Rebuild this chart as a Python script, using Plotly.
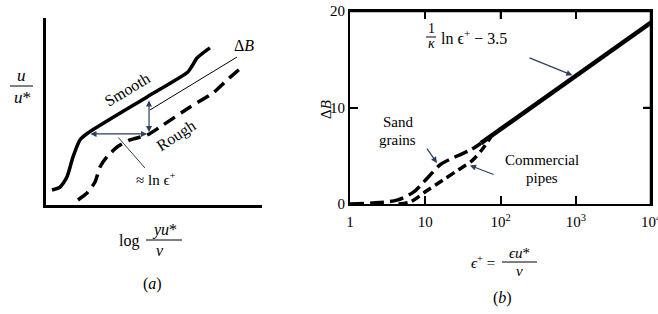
import math
import plotly.graph_objects as go

W, H = 658, 314
SERIF = "Liberation Serif, Times New Roman, DejaVu Serif, serif"

# ---------- Panel (a): schematic velocity profiles (arbitrary units) ----------
smooth_x = [0.28, 0.65, 0.97, 1.25, 1.57, 1.94, 4.68, 6.57, 6.76, 6.99, 7.27, 7.59]
smooth_y = [0.80, 0.96, 1.50, 2.57, 3.48, 3.85, 5.78, 7.11, 7.43, 7.86, 8.13, 8.40]
rough_x = [1.48, 1.90, 2.27, 2.50, 2.82, 3.29, 3.89, 4.68, 5.42, 6.67, 7.73, 8.38, 9.07]
rough_y = [0.27, 0.64, 1.23, 2.03, 2.57, 3.10, 3.48, 3.74, 4.28, 5.24, 5.99, 6.68, 7.38]
dB_lead_x = [4.81, 8.84]
dB_lead_y = [5.08, 7.91]

# ---------- Panel (b): roughness function ----------
line_eps = [55, 10000]
line_dB = [6.3, 18.8]
sand_eps = [1, 2, 4.2, 6.9, 11, 16, 27, 40, 55]
sand_dB = [0, 0.1, 0.4, 1.2, 2.8, 4.1, 5.0, 5.6, 6.3]
comm_eps = [4.4, 6.3, 10.6, 17.4, 27, 42, 59, 75]
comm_dB = [0, 0.2, 1.4, 2.5, 3.5, 4.5, 5.8, 7.0]
xtick_vals = [1, 10, 100, 1000, 10000]
xtick_text = ["1", "10", "10<sup>2</sup>", "10<sup>3</sup>", "10<sup>4</sup>"]
ytick_vals = [0, 10, 20]
X_RANGE = [0, 4]     # log10 of 1 .. 10^4
Y_RANGE = [0, 20]


def px(x):
    return x / W


def py(y):
    return 1 - y / H


L = math.log10  # annotation positions on a log axis are given in log10 units

B_LEFT, B_RIGHT, B_TOP, B_BOT = 350, 651, 11, 204
TICK = 8

fig = go.Figure()

# panel a traces
fig.add_trace(go.Scatter(x=smooth_x, y=smooth_y, mode="lines",
                         line=dict(color="black", width=3.5, shape="spline", smoothing=0.6),
                         xaxis="x", yaxis="y", showlegend=False, hoverinfo="skip"))
fig.add_trace(go.Scatter(x=rough_x, y=rough_y, mode="lines",
                         line=dict(color="black", width=3.5, dash="13px,7px", shape="spline", smoothing=0.6),
                         xaxis="x", yaxis="y", showlegend=False, hoverinfo="skip"))
fig.add_trace(go.Scatter(x=dB_lead_x, y=dB_lead_y, mode="lines", line=dict(color="black", width=1),
                         xaxis="x", yaxis="y", showlegend=False, hoverinfo="skip"))

# panel b traces
fig.add_trace(go.Scatter(x=line_eps, y=line_dB, mode="lines", line=dict(color="black", width=4.5),
                         xaxis="x2", yaxis="y2", showlegend=False, hoverinfo="skip"))
fig.add_trace(go.Scatter(x=sand_eps, y=sand_dB, mode="lines",
                         line=dict(color="black", width=3.5, dash="14px,6px", shape="spline", smoothing=0.8),
                         xaxis="x2", yaxis="y2", showlegend=False, hoverinfo="skip"))
fig.add_trace(go.Scatter(x=comm_eps, y=comm_dB, mode="lines",
                         line=dict(color="black", width=3.5, dash="9px,5px", shape="spline", smoothing=0.8),
                         xaxis="x2", yaxis="y2", showlegend=False, hoverinfo="skip"))

# panel b frame: top and right sides, built from the axis extremes (tick values)
x_lo, x_hi = xtick_vals[0], xtick_vals[-1]
y_lo, y_hi = ytick_vals[0], ytick_vals[-1]
fig.add_trace(go.Scatter(x=[x_lo, x_hi, x_hi], y=[y_hi, y_hi, y_lo], mode="lines",
                         line=dict(color="black", width=2.5), cliponaxis=False,
                         xaxis="x2", yaxis="y2", showlegend=False, hoverinfo="skip"))
# mirrored inward tick marks on top and right
tick_dy = TICK / (B_BOT - B_TOP) * (Y_RANGE[1] - Y_RANGE[0])
tick_dlog = TICK / (B_RIGHT - B_LEFT) * (X_RANGE[1] - X_RANGE[0])
mx, my = [], []
for v in xtick_vals[1:-1]:
    mx += [v, v, None]
    my += [y_hi, y_hi - tick_dy, None]
for v in ytick_vals[1:-1]:
    mx += [x_hi, x_hi / 10 ** tick_dlog, None]
    my += [v, v, None]
fig.add_trace(go.Scatter(x=mx, y=my, mode="lines", line=dict(color="black", width=1.5), cliponaxis=False,
                         xaxis="x2", yaxis="y2", showlegend=False, hoverinfo="skip", connectgaps=False))

ann = []
shapes = []


def txt(x, y, s, size=16, **kw):
    d = dict(x=px(x), y=py(y), xref="paper", yref="paper", text=s, showarrow=False,
             xanchor="center", yanchor="middle",
             font=dict(family=SERIF, size=size, color="black"))
    d.update(kw)
    ann.append(d)


def bar(x0, x1, y):
    shapes.append(dict(type="line", xref="paper", yref="paper", x0=px(x0), x1=px(x1), y0=py(y), y1=py(y),
                       line=dict(color="black", width=1)))


# --- panel a annotations ---
ann.append(dict(x=4.77, y=3.90, ax=4.77, ay=5.67, xref="x", yref="y", axref="x", ayref="y", text="",
                showarrow=True, arrowhead=2, arrowsize=1, arrowwidth=1.2, arrowside="end+start"))
ann.append(dict(x=4.68, y=3.80, ax=1.99, ay=3.80, xref="x", yref="y", axref="x", ayref="y", text="",
                showarrow=True, arrowhead=2, arrowsize=1, arrowwidth=1.2, arrowside="end+start"))
ann.append(dict(x=4.58, y=1.98, ax=3.29, ay=3.69, xref="x", yref="y", axref="x", ayref="y", text="",
                showarrow=True, arrowhead=0, arrowwidth=1))
txt(155, 179, "≈ ln ϵ<sup>+</sup>", 15)
txt(127, 89, "Smooth", 16, textangle=-31)
txt(176, 136, "Rough", 16, textangle=-33)
txt(244, 46, "Δ<i>B</i>", 16)

# y label u / u*
txt(21, 76, "<i>u</i>", 17)
txt(22, 97, "<i>u</i>*", 17)
bar(10, 33, 86)

# x label log yu*/nu
txt(129, 241, "log", 16)
txt(164, 230, "<i>yu</i>*", 16)
txt(160, 250, "<i>ν</i>", 16)
bar(146, 182, 240)
txt(152, 284, "(<i>a</i>)", 16)

# --- panel b annotations ---
txt(326, 110, "Δ<i>B</i>", 15, textangle=-90)
txt(431, 29, "1", 14)
txt(431, 44, "<i>κ</i>", 14)
bar(426, 436, 37)
txt(439, 37, "ln ϵ<sup>+</sup> − 3.5", 16, xanchor="left")
ann.append(dict(x=L(900), y=13.35, ax=L(232), ay=15.2, xref="x2", yref="y2", axref="x2", ayref="y2", text="",
                showarrow=True, arrowhead=2, arrowsize=1, arrowwidth=1.2))

txt(398, 122, "Sand", 15)
txt(397, 140, "grains", 15)
ann.append(dict(x=L(14.3), y=4.25, ax=L(10.2), ay=5.9, xref="x2", yref="y2", axref="x2", ayref="y2", text="",
                showarrow=True, arrowhead=2, arrowsize=1, arrowwidth=1.2))

txt(542, 160, "Commercial", 15)
txt(542, 178, "pipes", 15)
ann.append(dict(x=L(39.3), y=4.0, ax=L(84.5), ay=3.0, xref="x2", yref="y2", axref="x2", ayref="y2", text="",
                showarrow=True, arrowhead=2, arrowsize=1, arrowwidth=1.2))

# x title eps+ = eps u*/nu
txt(483, 262, "<i>ϵ</i><sup>+</sup> =", 15)
txt(519, 253, "<i>ϵu</i>*", 15)
txt(519, 271, "<i>ν</i>", 15)
bar(502, 537, 262)
txt(502, 298, "(<i>b</i>)", 16)

frame_common = dict(showline=True, linecolor="black", linewidth=2, ticks="inside", ticklen=TICK, tickwidth=1.5,
                    tickcolor="black", showgrid=False, zeroline=False, automargin=False,
                    ticklabeloverflow="allow", mirror="ticks")

fig.update_layout(
    width=W, height=H, margin=dict(l=0, r=0, t=0, b=0, autoexpand=False),
    paper_bgcolor="white", plot_bgcolor="white",
    showlegend=False,
    xaxis=dict(domain=[px(46), px(262)], range=[0, 10], showline=True, linecolor="black", linewidth=2.5,
               showgrid=False, zeroline=False, showticklabels=False, ticks="", automargin=False),
    yaxis=dict(domain=[py(205), py(18)], range=[0, 10], showline=True, linecolor="black", linewidth=2.5,
               showgrid=False, zeroline=False, showticklabels=False, ticks="", automargin=False),
    xaxis2=dict(domain=[px(B_LEFT), px(B_RIGHT)], type="log", range=X_RANGE, tickvals=xtick_vals,
                ticktext=xtick_text, tickfont=dict(family=SERIF, size=15, color="black"), anchor="y2",
                ticklabelstandoff=3, **frame_common),
    yaxis2=dict(domain=[py(B_BOT), py(B_TOP)], range=Y_RANGE, tickvals=ytick_vals,
                tickfont=dict(family=SERIF, size=15, color="black"), anchor="x2", **frame_common),
    annotations=ann, shapes=shapes,
)

fig.write_html("out.html", config={"displayModeBar": False},
               post_script="document.body.style.margin='0px';")
